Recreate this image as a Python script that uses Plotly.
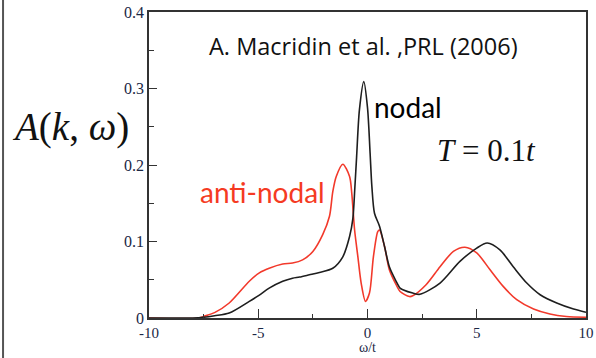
import plotly.graph_objects as go

# nodal (black) curve
nodal_w = [-10, -8, -7.5, -7, -6.33, -5.41, -4.95, -4.5, -3.88, -3.43, -3.11, -2.66, -2.2,
           -1.59, -1.13, -0.82, -0.67, -0.58, -0.5, -0.37, -0.17, 0.0, 0.12, 0.2, 0.32,
           0.55, 0.78, 1.0, 1.31, 1.49, 1.62, 2.07, 2.4, 3.32, 4.23, 5.0, 5.48, 6.06,
           6.67, 7.29, 7.9, 8.66, 9.43, 10]
nodal_A = [0, 0, 0.001, 0.003, 0.0065, 0.0217, 0.030, 0.039, 0.048, 0.052, 0.0535, 0.0565, 0.0596,
           0.065, 0.080, 0.1065, 0.13, 0.17, 0.21, 0.272, 0.309, 0.275, 0.215, 0.172, 0.137,
           0.12, 0.0935, 0.067, 0.048, 0.039, 0.037, 0.0326, 0.031, 0.0457, 0.074, 0.0914, 0.098, 0.089,
           0.067, 0.0457, 0.0304, 0.0196, 0.0117, 0.0075]

# anti-nodal (red) curve
anti_w = [-10, -7.7, -7.5, -7, -6.33, -5.41, -4.95, -4.5, -3.88, -3.43, -2.97, -2.5, -2.05,
          -1.74, -1.59, -1.43, -1.13, -0.82, -0.72, -0.59, -0.44, -0.29, -0.09, 0.09, 0.27,
          0.47, 0.55, 0.78, 1.0, 1.31, 1.49, 1.92, 2.07, 2.68, 3.32, 3.93, 4.46, 5.0, 5.61,
          6.22, 6.83, 7.6, 8.35, 9.1, 10]
anti_A = [0, 0, 0.002, 0.007, 0.0196, 0.048, 0.059, 0.065, 0.0705, 0.0718, 0.076, 0.087, 0.109,
          0.133, 0.165, 0.185, 0.201, 0.185, 0.163, 0.115, 0.08, 0.0457, 0.0217, 0.0326, 0.08,
          0.113, 0.115, 0.0935, 0.063, 0.0435, 0.0347, 0.028, 0.029, 0.0435, 0.067, 0.087, 0.0925, 0.085, 0.063,
          0.041, 0.0239, 0.0117, 0.0052, 0.002, 0.001]

x_ticks = [-10, -5, 0, 5, 10]
y_ticks = [0, 0.1, 0.2, 0.3, 0.4]
y_tick_labels = ["0", "0.1", "0.2", "0.3", "0.4"]

fig = go.Figure()
fig.add_trace(go.Scatter(x=anti_w, y=anti_A, mode="lines",
                         line=dict(color="#f2392b", width=1.6, shape="spline", smoothing=0.8),
                         showlegend=False))
fig.add_trace(go.Scatter(x=nodal_w, y=nodal_A, mode="lines",
                         line=dict(color="#1e1e1e", width=1.6, shape="spline", smoothing=0.8),
                         showlegend=False))

tickfont_y = dict(family="Liberation Serif", size=16, color="#1a2744")
tickfont_x = dict(family="Liberation Serif", size=15, color="#1a2744")
fig.update_layout(
    width=596, height=358,
    margin=dict(l=149, r=10, t=12, b=40, autoexpand=False),
    paper_bgcolor="white", plot_bgcolor="white",
    xaxis=dict(range=[-10, 10], tickvals=x_ticks, ticktext=[str(v) for v in x_ticks],
               ticks="inside", ticklen=9, tickwidth=1, tickcolor="#333",
               minor=dict(dtick=2.5, ticks="inside", ticklen=4, tickcolor="#333"),
               showline=True, linecolor="#333", linewidth=1.5, mirror=True,
               showgrid=False, zeroline=False, tickfont=tickfont_x, automargin=False),
    yaxis=dict(range=[0, 0.4], tickvals=y_ticks, ticktext=y_tick_labels,
               ticks="inside", ticklen=8, tickwidth=1, tickcolor="#333",
               minor=dict(dtick=0.05, ticks="inside", ticklen=5, tickcolor="#333"),
               showline=True, linecolor="#333", linewidth=1.5, mirror=True,
               showgrid=False, zeroline=False, tickfont=tickfont_y, automargin=False),
)

# left slide border
fig.add_shape(type="line", xref="paper", yref="paper", x0=-0.334, x1=-0.334, y0=-0.2, y1=1.1,
              line=dict(color="#555", width=2))

def note(text, x, y, font, yanchor="middle", pad=1):
    fig.add_annotation(text=text, xref="paper", yref="paper", x=x, y=y, showarrow=False,
                       xanchor="center", yanchor=yanchor, font=font, borderpad=pad)

note("A. Macridin et al. ,PRL (2006)", 0.49, 0.889, dict(family="Open Sans", size=23.5, color="#111"))
note("nodal", 0.593, 0.69, dict(family="Lato", size=28, color="#000"))
note("anti-nodal", 0.26, 0.412, dict(family="Lato", size=28, color="#f53a22"))
note("<i>T</i> = 0.1<i>t</i>", 0.772, 0.546, dict(family="Liberation Serif", size=31, color="#111"))
note("<i>A</i>(<i>k</i>, <i>ω</i>)", -0.18, 0.624, dict(family="Liberation Serif", size=39, color="#111"))
note("ω/t", 0.5, -0.1255, dict(family="Liberation Serif", size=14, color="#1a2744"),
     yanchor="bottom", pad=0)

fig.write_html("out.html")
